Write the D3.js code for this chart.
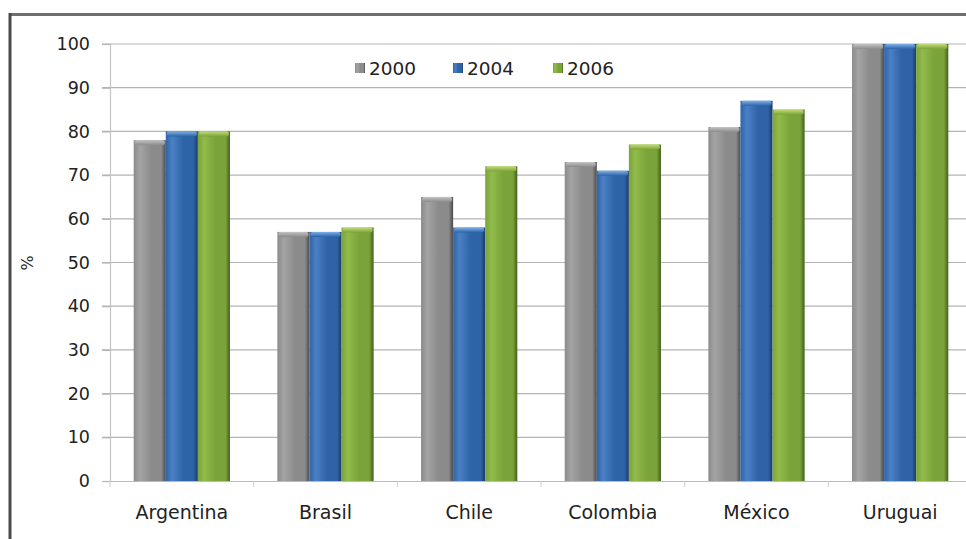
<!DOCTYPE html>
<html><head><meta charset="utf-8">
<script src="https://cdn.jsdelivr.net/npm/d3@7/dist/d3.min.js"></script>
<style>html,body{margin:0;padding:0;background:#fff;}svg{display:block;}</style>
</head><body>
<svg id="c" width="966" height="539"></svg>
<script>
const categories = ["Argentina", "Brasil", "Chile", "Colombia", "México", "Uruguai"];
const series = ["2000", "2004", "2006"];
const values2000 = [78, 57, 65, 73, 81, 100];
const values2004 = [80, 57, 58, 71, 87, 100];
const values2006 = [80, 58, 72, 77, 85, 100];
const yTicks = [0, 10, 20, 30, 40, 50, 60, 70, 80, 90, 100];
const seriesValues = [values2000, values2004, values2006];

(function () {
const svg = d3.select("#c");
const W = 966, H = 539;
const pLeft = 110, pRight = 972, pTop = 44, pBottom = 481;

// gradients
const defs = svg.append("defs");
const pal = [
  {dark:"#4a4a4a", mid:"#8b8b8b", light:"#a4a4a4", cap:"#c4c4c4"},
  {dark:"#1c3a66", mid:"#2e63a8", light:"#4a80c4", cap:"#7fb0e6"},
  {dark:"#45601d", mid:"#7aa339", light:"#92bb4c", cap:"#c2dc78"}
];
pal.forEach((p, i) => {
  const g = defs.append("linearGradient").attr("id", "g" + i).attr("x1", "0").attr("x2", "1").attr("y1", "0").attr("y2", "0");
  g.append("stop").attr("offset", "0%").attr("stop-color", p.mid);
  g.append("stop").attr("offset", "20%").attr("stop-color", p.light);
  g.append("stop").attr("offset", "55%").attr("stop-color", p.mid);
  g.append("stop").attr("offset", "86%").attr("stop-color", p.mid);
  g.append("stop").attr("offset", "100%").attr("stop-color", p.dark);
  const c = defs.append("linearGradient").attr("id", "c" + i).attr("x1", "0").attr("x2", "0").attr("y1", "0").attr("y2", "1");
  c.append("stop").attr("offset", "0%").attr("stop-color", p.cap);
  c.append("stop").attr("offset", "100%").attr("stop-color", p.mid);
});

const x0 = d3.scaleBand().domain(categories).range([pLeft, pRight]).paddingInner(0.33).paddingOuter(0.165);
const x1 = d3.scaleBand().domain(series).range([0, x0.bandwidth()]);
const y = d3.scaleLinear().domain([0, 100]).range([pBottom, pTop]);

// frame
svg.append("line").attr("x1", 9).attr("x2", W).attr("y1", 14.5).attr("y2", 14.5).attr("stroke", "#6e6e6e").attr("stroke-width", 3);
svg.append("line").attr("x1", 10).attr("x2", 10).attr("y1", 13).attr("y2", H).attr("stroke", "#4a4a4a").attr("stroke-width", 3);

// gridlines
svg.append("g").selectAll("line").data(yTicks.filter(d => d > 0)).join("line")
  .attr("x1", 102).attr("x2", W).attr("y1", d => y(d)).attr("y2", d => y(d))
  .attr("stroke", "#b4b4b4").attr("stroke-width", 1.2);

// y axis
const yAxis = svg.append("g").attr("transform", `translate(${pLeft},0)`)
  .call(d3.axisLeft(y).tickValues(yTicks).tickSize(8).tickPadding(12));
yAxis.select(".domain").attr("stroke", "#c4c4c4").attr("stroke-width", 1.2);
yAxis.selectAll(".tick line").attr("stroke", "#b4b4b4").attr("stroke-width", 1.2);
yAxis.selectAll("text").attr("font-family", "DejaVu Sans").attr("font-size", 17.5).attr("fill", "#222");

// x axis
svg.append("line").attr("x1", pLeft).attr("x2", W).attr("y1", pBottom + 0.5).attr("y2", pBottom + 0.5).attr("stroke", "#bbb").attr("stroke-width", 1.2);
svg.append("g").selectAll("line").data(d3.range(categories.length + 1)).join("line")
  .attr("x1", i => pLeft + i * x0.step()).attr("x2", i => pLeft + i * x0.step())
  .attr("y1", pBottom).attr("y2", pBottom + 6).attr("stroke", "#ccc");
svg.append("g").selectAll("text").data(categories).join("text")
  .attr("x", d => x0(d) + x0.bandwidth() / 2).attr("y", 519)
  .attr("text-anchor", "middle").attr("font-family", "DejaVu Sans").attr("font-size", 19).attr("fill", "#222")
  .text(d => d);

// y label
svg.append("text").attr("transform", "translate(33,263) rotate(-90)").attr("text-anchor", "middle")
  .attr("font-family", "DejaVu Sans").attr("font-size", 16).attr("fill", "#222").text("%");

// bars
const groups = svg.append("g").selectAll("g").data(categories).join("g")
  .attr("transform", d => `translate(${x0(d)},0)`);
groups.each(function(cat, ci) {
  const g = d3.select(this);
  series.forEach((s, si) => {
    const v = seriesValues[si][ci];
    const bx = x1(s), bw = x1.bandwidth();
    g.append("rect").attr("x", bx).attr("y", y(v)).attr("width", bw).attr("height", pBottom - y(v))
      .attr("fill", `url(#g${si})`);
    g.append("rect").attr("x", bx + 1).attr("y", y(v)).attr("width", bw - 2).attr("height", 5)
      .attr("rx", 2).attr("fill", `url(#c${si})`);
  });
});

// legend
const legX = [355, 453, 553];
const leg = svg.append("g");
series.forEach((s, i) => {
  leg.append("rect").attr("x", legX[i]).attr("y", 63).attr("width", 10).attr("height", 10).attr("fill", `url(#g${i})`);
  leg.append("text").attr("x", legX[i] + 14).attr("y", 75).attr("font-family", "DejaVu Sans").attr("font-size", 18.5)
    .attr("fill", "#222").text(s);
});
})();
</script>
</body></html>
